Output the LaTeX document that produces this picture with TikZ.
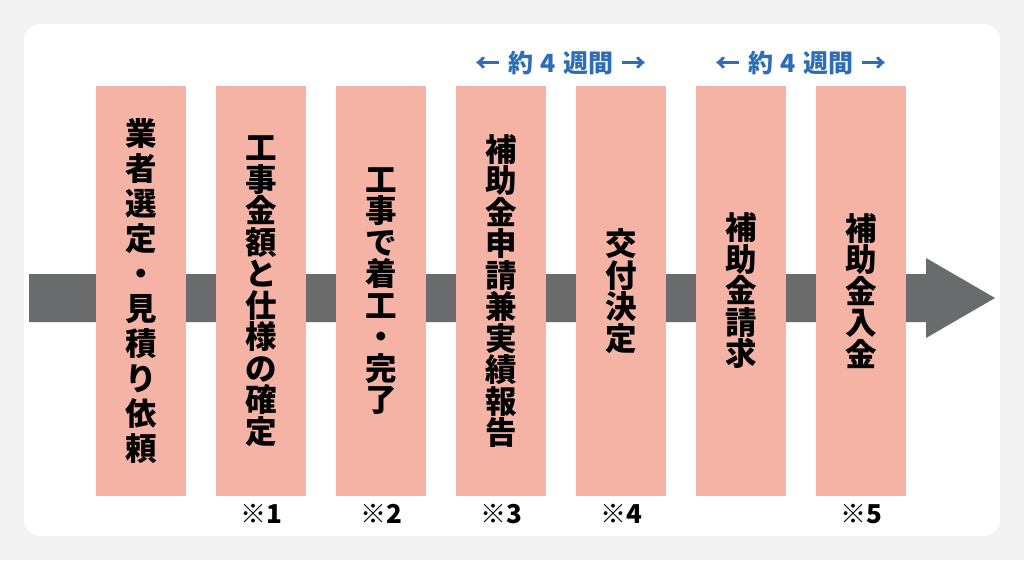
\documentclass[tikz,border=0pt]{standalone}
\usepackage{fontspec}
\usepackage{xcolor}
\usetikzlibrary{positioning}
\newfontfamily\jp{Noto Sans CJK JP}
\definecolor{pagegray}{HTML}{F2F2F2}
\definecolor{steppink}{HTML}{F4B3A5}
\definecolor{flowgray}{HTML}{6A6B6C}
\definecolor{weekblue}{HTML}{2D6DB5}

\begin{document}
\begin{tikzpicture}[x=1pt, y=-1pt,
    stepbox/.style={fill=steppink, minimum width=90pt, minimum height=410pt, inner sep=0pt,
      align=center, font=\jp\bfseries\fontsize{31.5}{31.5}\selectfont},
    note/.style={inner sep=0pt, font=\jp\bfseries\fontsize{26}{26}\selectfont},
    weeks/.style={inner sep=0pt, text=weekblue, font=\jp\bfseries\fontsize{25}{25}\selectfont}]
      % background and card
      \fill[pagegray] (0,0) rectangle (1024,560);
      \fill[white, rounded corners=16pt] (24,24) rectangle (1000,536);

      % timeline arrow
      \fill[flowgray] (29,274) -- (926,274) -- (926,258) -- (995,298) -- (926,338) -- (926,322) -- (29,322) -- cycle;

      \node[stepbox, font=\jp\bfseries\fontsize{31.5}{35}\selectfont] (s1) at (141,291) {業\\者\\選\\定\\・\\見\\積\\り\\依\\頼};
      \node[stepbox] (s2) at (261,291) {工\\事\\金\\額\\と\\仕\\様\\の\\確\\定};
      \node[stepbox] (s3) at (381,291) {工\\事\\で\\着\\工\\・\\完\\了};
      \node[stepbox] (s4) at (501,291) {補\\助\\金\\申\\請\\兼\\実\\績\\報\\告};
      \node[stepbox] (s5) at (621,291) {交\\付\\決\\定};
      \node[stepbox] (s6) at (741,291) {補\\助\\金\\請\\求};
      \node[stepbox] (s7) at (861,291) {補\\助\\金\\入\\金};

      \node[weeks] (w1) at (561,63) {←\hspace{8pt}約\hspace{7pt}4\hspace{7pt}週間\hspace{8pt}→};
      \node[weeks] (w2) at (801,63) {←\hspace{8pt}約\hspace{7pt}4\hspace{7pt}週間\hspace{8pt}→};

      \node[note] (n1) at (261,514) {※1};
      \node[note] (n2) at (381,514) {※2};
      \node[note] (n3) at (501,514) {※3};
      \node[note] (n4) at (621,514) {※4};
      \node[note] (n5) at (861,514) {※5};
    \end{tikzpicture}
\end{document}
